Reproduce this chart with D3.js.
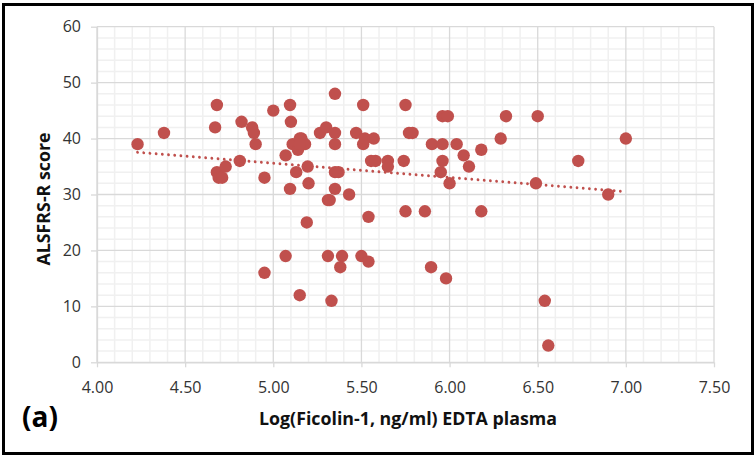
<!DOCTYPE html>
<html>
<head>
<meta charset="utf-8">
<script src="https://cdn.jsdelivr.net/npm/d3@7"></script>
<style>
  html, body { margin: 0; padding: 0; background: #fff; }
  svg { display: block; }
  text { font-family: "Open Sans", "Liberation Sans", sans-serif; }
</style>
</head>
<body>
<svg id="chart" width="755" height="458"></svg>
<script>
// ---- data ----
const ficolinLog = [4.23, 4.38, 4.68, 4.67, 4.68, 4.69, 4.71, 4.73, 4.81, 4.82,
  4.88, 4.89, 4.90, 4.95, 4.95, 5.00, 5.07, 5.07, 5.095, 5.10,
  5.095, 5.11, 5.13, 5.14, 5.16, 5.18, 5.15, 5.15, 5.195, 5.20,
  5.19, 5.265, 5.30, 5.31, 5.32, 5.31, 5.33, 5.35, 5.35, 5.35,
  5.35, 5.37, 5.35, 5.38, 5.39, 5.43, 5.47, 5.50, 5.51, 5.51,
  5.52, 5.54, 5.54, 5.555, 5.58, 5.57, 5.65, 5.65, 5.74, 5.75,
  5.75, 5.77, 5.79, 5.86, 5.895, 5.90, 5.95, 5.96, 5.96, 5.96,
  5.99, 5.98, 6.00, 6.04, 6.08, 6.11, 6.18, 6.18, 6.29, 6.32,
  6.49, 6.50, 6.54, 6.56, 6.73, 6.90, 7.00, 5.15];
const alsfrsScore = [39, 41, 46, 42, 34, 33, 33, 35, 36, 43,
  42, 41, 39, 33, 16, 45, 37, 19, 46, 43,
  31, 39, 34, 38, 40, 39, 12, 40, 35, 32,
  25, 41, 42, 29, 29, 19, 11, 48, 41, 39,
  34, 34, 31, 17, 19, 30, 41, 19, 46, 39,
  40, 18, 26, 36, 36, 40, 36, 35, 36, 46,
  27, 41, 41, 27, 17, 39, 34, 36, 39, 44,
  44, 15, 32, 39, 37, 35, 38, 27, 40, 44,
  32, 44, 11, 3, 36, 30, 40, 39];
const trendX = [4.23, 7.00];
const trendY = [37.55, 30.5];
const xTicks = [4.0, 4.5, 5.0, 5.5, 6.0, 6.5, 7.0, 7.5];
const yTicks = [0, 10, 20, 30, 40, 50, 60];
const xTitle = "Log(Ficolin-1, ng/ml) EDTA plasma";
const yTitle = "ALSFRS-R score";
const panelLabel = "(a)";

// ---- drawing ----
const svg = d3.select("#chart");
const W = 755, H = 458;
const plot = { left: 97, right: 714, top: 26.7, bottom: 362.3 };
const red = "#c0504d";

svg.append("rect").attr("width", W).attr("height", H).attr("fill", "#fff");

const x = d3.scaleLinear().domain([4, 7.5]).range([plot.left, plot.right]);
const y = d3.scaleLinear().domain([0, 60]).range([plot.bottom, plot.top]);

// minor gridlines
const xMinor = d3.range(40, 76, 1).map(v => v / 10).filter(v => Math.round(v * 10) % 5 !== 0);
const yMinor = d3.range(0, 61, 2).filter(v => v % 10 !== 0);
const grid = svg.append("g");
grid.selectAll(".xm").data(xMinor).join("line")
  .attr("x1", d => x(d)).attr("x2", d => x(d))
  .attr("y1", plot.top).attr("y2", plot.bottom)
  .attr("stroke", "#f0f0f0").attr("stroke-width", 1.5);
grid.selectAll(".ym").data(yMinor).join("line")
  .attr("x1", plot.left).attr("x2", plot.right)
  .attr("y1", d => y(d)).attr("y2", d => y(d))
  .attr("stroke", "#f0f0f0").attr("stroke-width", 1.5);
// major gridlines
grid.selectAll(".xM").data(xTicks).join("line")
  .attr("x1", d => x(d)).attr("x2", d => x(d))
  .attr("y1", plot.top).attr("y2", plot.bottom)
  .attr("stroke", "#d9d9d9").attr("stroke-width", 1.3);
grid.selectAll(".yM").data(yTicks).join("line")
  .attr("x1", plot.left).attr("x2", plot.right)
  .attr("y1", d => y(d)).attr("y2", d => y(d))
  .attr("stroke", "#d9d9d9").attr("stroke-width", 1.3);

// axes
const yAxis = d3.axisLeft(y).tickValues(yTicks).tickFormat(d3.format("d"))
  .tickSize(6).tickPadding(10).tickSizeOuter(0);
const gy = svg.append("g").attr("transform", `translate(${plot.left},0)`).call(yAxis);
gy.select(".domain").attr("stroke", "#d9d9d9").attr("stroke-width", 1.3);
gy.selectAll(".tick line").attr("stroke", "#d9d9d9").attr("stroke-width", 1.3);
gy.selectAll(".tick text").attr("font-size", 16).attr("fill", "#333")
  .attr("font-family", "'Open Sans', sans-serif");

const xAxis = d3.axisBottom(x).tickValues(xTicks).tickFormat(d3.format(".2f"))
  .tickSize(5).tickPadding(14).tickSizeOuter(0);
const gx = svg.append("g").attr("transform", `translate(0,${plot.bottom})`).call(xAxis);
gx.select(".domain").attr("stroke", "#d9d9d9").attr("stroke-width", 1.3);
gx.selectAll(".tick line").attr("stroke", "#d9d9d9").attr("stroke-width", 1.3);
gx.selectAll(".tick text").attr("font-size", 16).attr("fill", "#333")
  .attr("font-family", "'Open Sans', sans-serif");

// trend line
const line = d3.line().x(d => x(d[0])).y(d => y(d[1]));
svg.append("path")
  .datum(trendX.map((v, i) => [v, trendY[i]]))
  .attr("d", line)
  .attr("fill", "none").attr("stroke", red)
  .attr("stroke-width", 2.8).attr("stroke-linecap", "round")
  .attr("stroke-dasharray", "0.01 6.2");

// points
svg.append("g").selectAll("circle")
  .data(ficolinLog.map((v, i) => [v, alsfrsScore[i]]))
  .join("circle")
  .attr("cx", d => x(d[0])).attr("cy", d => y(d[1]))
  .attr("r", 6.2).attr("fill", red);

// titles
svg.append("text").attr("x", 408).attr("y", 425).attr("text-anchor", "middle")
  .attr("font-size", 17.8).attr("font-weight", "bold").attr("fill", "#111")
  .text(xTitle);
svg.append("text").attr("transform", "translate(50,199) rotate(-90)")
  .attr("text-anchor", "middle")
  .attr("font-size", 17.8).attr("font-weight", "bold").attr("fill", "#111")
  .text(yTitle);
svg.append("text").attr("x", 22).attr("y", 427)
  .attr("font-size", 28).attr("font-weight", "bold").attr("fill", "#000")
  .text(panelLabel);

// outer border
svg.append("rect").attr("x", 3.5).attr("y", 4.5).attr("width", 749).attr("height", 449)
  .attr("fill", "none").attr("stroke", "#000").attr("stroke-width", 3);
</script>
</body>
</html>
